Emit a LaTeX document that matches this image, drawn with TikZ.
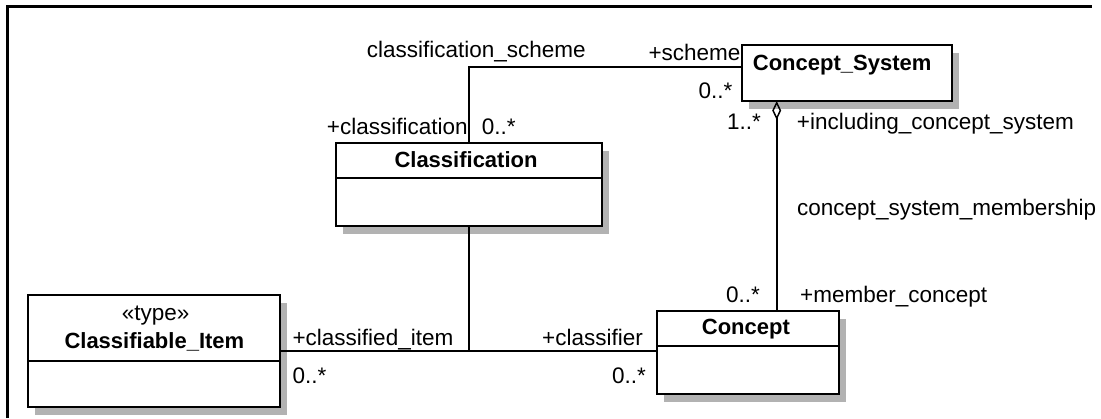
\documentclass[tikz,border=0pt]{standalone}
\usepackage{fontspec}
\setmainfont{Liberation Sans}
\usetikzlibrary{shadows,calc,arrows.meta}
\tikzset{
  umlclass/.style={draw=black, line width=1.9pt, fill=white, rectangle, inner sep=0pt, outer sep=0pt, anchor=north west,
    drop shadow={shadow xshift=7pt, shadow yshift=-8pt, fill=black!30, opacity=1}},
  sepline/.style={line width=1.8pt},
  conn/.style={line width=1.7pt},
  lbl/.style={font=\fontsize{22.5}{27}\selectfont, inner sep=0pt, anchor=base west},
  cname/.style={font=\fontsize{22}{26}\selectfont\bfseries, inner sep=0pt, anchor=base west},
  frameline/.style={line width=3pt}
}
\begin{document}
\begin{tikzpicture}[x=1pt,y=-1pt]
\useasboundingbox (0,0) rectangle (1101,418);
% frame (top and left edges)
\draw[frameline] (7.5,418) -- (7.5,6.5) -- (1092,6.5);

% classes
\node[umlclass, minimum width=210pt, minimum height=56pt] (cs) at (741.7,45) {};
\node[umlclass, minimum width=266pt, minimum height=83.3pt] (cls) at (335.7,142.7) {};
\node[umlclass, minimum width=252pt, minimum height=112.3pt] (ci) at (28,295) {};
\node[umlclass, minimum width=182pt, minimum height=83.3pt] (con) at (657.3,310.7) {};

% compartment separators
\draw[sepline] ($(cls.north west)+(0,35.6)$) -- ($(cls.north east)+(0,35.6)$);
\draw[sepline] ($(ci.north west)+(0,66)$) -- ($(ci.north east)+(0,66)$);
\draw[sepline] ($(con.north west)+(0,35)$) -- ($(con.north east)+(0,35)$);

% class names
\node[cname] (csname) at (752.7,70) {Concept\_System};
\node[cname] (clsname) at (394.3,167.3) {Classification};
\node[lbl] (citype) at (121.7,320) {«type»};
\node[cname] (ciname) at (64.3,348.3) {Classifiable\_Item};
\node[cname] (conname) at (701.7,334.3) {Concept};

% connectors
\coordinate (schemey) at ($(cs.north west)+(0,22.3)$);
\draw[conn] (cls.north) |- (schemey);
\draw[conn] (ci.east) -- (ci.east -| con.west);
\draw[conn] (cls.south) -- (cls.south |- ci.east);
\coordinate (agg) at ($(cs.south west)+(35,0)$);
\draw[conn, -{Diamond[open, length=19pt, width=9pt, line width=1.5pt]}] (agg |- con.north) -- (agg);

% association labels
\node[lbl] (l1) at (366.7,57.7) {classification\_scheme};
\node[lbl] (l2) at (648.3,60) {+scheme};
\node[lbl] (l3) at (698.3,98.3) {0..*};
\node[lbl] (l4) at (326.7,134) {+classification};
\node[lbl] (l5) at (481.7,134) {0..*};
\node[lbl] (l6) at (727,129.5) {1..*};
\node[lbl] (l7) at (796.7,129.5) {+including\_concept\_system};
\node[lbl] (l8) at (797,215) {concept\_system\_membership};
\node[lbl] (l9) at (726,302.7) {0..*};
\node[lbl] (l10) at (800,302.7) {+member\_concept};
\node[lbl] (l11) at (292.4,345) {+classified\_item};
\node[lbl] (l12) at (542,345) {+classifier};
\node[lbl] (l13) at (292.4,383.3) {0..*};
\node[lbl] (l14) at (612,383.3) {0..*};
\end{tikzpicture}
\end{document}
